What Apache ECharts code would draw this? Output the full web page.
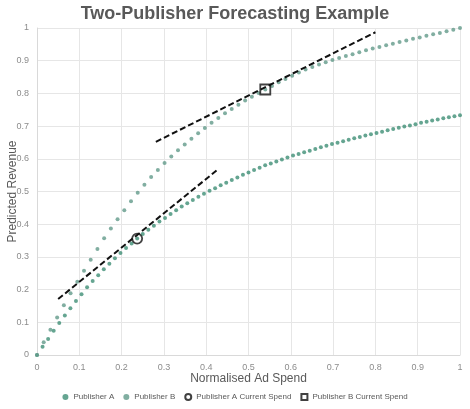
<!DOCTYPE html>
<html>
<head>
<meta charset="utf-8">
<script src="https://cdn.jsdelivr.net/npm/echarts@6/dist/echarts.min.js"></script>
<style>
  html, body { margin: 0; padding: 0; background: #fff; }
  #main { width: 470px; height: 409px; }
</style>
</head>
<body>
<div id="main"></div>
<script>
// spend grid: A sampled in 76 steps, B in 63 steps, both from 0 to 1
var stepsA = 76;
var stepsB = 63;

var revenueA = [0, 0.025, 0.049, 0.074, 0.098, 0.121, 0.143, 0.165, 0.186, 0.207,
    0.226, 0.244, 0.262, 0.279, 0.296, 0.312, 0.327, 0.341, 0.356, 0.370,
    0.383, 0.395, 0.408, 0.419, 0.431, 0.443, 0.454, 0.464, 0.474, 0.484,
    0.493, 0.502, 0.510, 0.519, 0.527, 0.535, 0.543, 0.551, 0.558, 0.566,
    0.573, 0.580, 0.586, 0.592, 0.598, 0.604, 0.610, 0.615, 0.620, 0.625,
    0.630, 0.635, 0.640, 0.645, 0.649, 0.654, 0.658, 0.663, 0.667, 0.671,
    0.675, 0.679, 0.683, 0.687, 0.691, 0.695, 0.699, 0.702, 0.706, 0.710,
    0.713, 0.717, 0.720, 0.724, 0.727, 0.730, 0.733];

var revenueB = [0, 0.039, 0.077, 0.115, 0.152, 0.189, 0.224, 0.258, 0.291, 0.324,
    0.357, 0.387, 0.415, 0.443, 0.470, 0.496, 0.521, 0.544, 0.566, 0.587,
    0.607, 0.626, 0.644, 0.661, 0.678, 0.694, 0.710, 0.725, 0.739, 0.752,
    0.765, 0.778, 0.790, 0.801, 0.812, 0.823, 0.834, 0.844, 0.854, 0.864,
    0.873, 0.881, 0.888, 0.895, 0.902, 0.908, 0.914, 0.920, 0.926, 0.932,
    0.937, 0.942, 0.947, 0.952, 0.957, 0.962, 0.967, 0.971, 0.976, 0.981,
    0.985, 0.990, 0.995, 1.0];

var currentA = [0.2368, 0.356];
var currentB = [0.5397, 0.812];

var tangentA = [[0.050, 0.171], [0.429, 0.569]];
var tangentB = [[0.281, 0.652], [0.800, 0.987]];

var toPoints = function (values, steps) {
    var res = [];
    for (var i = 0; i < values.length; i++) {
        res.push([i / steps, values[i]]);
    }
    return res;
};

var axisLabel = { color: '#8c8c8c', fontSize: 9, fontFamily: 'Liberation Sans' };
var nameStyle = { color: '#595959', fontSize: 12, fontFamily: 'Liberation Sans' };

option = {
    backgroundColor: '#fff',
    animation: false,
    title: {
        text: 'Two-Publisher Forecasting Example',
        left: 'center',
        top: 0,
        textStyle: {
            color: '#595959',
            fontWeight: 'bold',
            fontSize: 18,
            fontFamily: 'Liberation Sans'
        }
    },
    grid: { left: 37, right: 10, top: 28, bottom: 54, containLabel: false, outerBoundsMode: 'none' },
    legend: {
        bottom: 3,
        left: 'center',
        itemWidth: 6,
        itemHeight: 6,
        itemGap: 9,
        textStyle: { color: '#595959', fontSize: 8, fontFamily: 'Liberation Sans' },
        data: [
            { name: 'Publisher A', icon: 'circle', itemStyle: { color: '#3f8f76' } },
            { name: 'Publisher B', icon: 'circle', itemStyle: { color: '#629a8a' } },
            { name: 'Publisher A Current Spend', icon: 'circle' },
            { name: 'Publisher B Current Spend', icon: 'rect' }
        ]
    },
    xAxis: {
        type: 'value',
        min: 0,
        max: 1,
        interval: 0.1,
        name: 'Normalised Ad Spend',
        nameLocation: 'middle',
        nameGap: 18,
        nameMoveOverlap: false,
        nameTextStyle: nameStyle,
        axisLine: { lineStyle: { color: '#d9d9d9' } },
        axisTick: { show: false },
        axisLabel: axisLabel,
        splitLine: { lineStyle: { color: '#e6e6e6' } }
    },
    yAxis: {
        type: 'value',
        min: 0,
        max: 1,
        interval: 0.1,
        name: 'Predicted Revenue',
        nameLocation: 'middle',
        nameGap: 18,
        nameMoveOverlap: false,
        nameTextStyle: nameStyle,
        axisLine: { show: true, lineStyle: { color: '#d9d9d9' } },
        axisTick: { show: false },
        axisLabel: axisLabel,
        splitLine: { lineStyle: { color: '#e6e6e6' } }
    },
    series: [
        {
            name: 'Publisher A',
            type: 'scatter',
            symbolSize: 4,
            itemStyle: { color: '#3f8f76' },
            data: toPoints(revenueA, stepsA),
            z: 3
        },
        {
            name: 'Publisher B',
            type: 'scatter',
            symbolSize: 4,
            itemStyle: { color: '#629a8a' },
            data: toPoints(revenueB, stepsB),
            z: 3
        },
        {
            name: 'tangent A',
            type: 'line',
            showSymbol: false,
            symbol: 'none',
            lineStyle: { color: '#111', width: 2, type: [6, 3] },
            data: tangentA,
            z: 4
        },
        {
            name: 'tangent B',
            type: 'line',
            showSymbol: false,
            symbol: 'none',
            lineStyle: { color: '#111', width: 2, type: [6, 3] },
            data: tangentB,
            z: 4
        },
        {
            name: 'Publisher A Current Spend',
            type: 'scatter',
            symbol: 'circle',
            symbolSize: 10,
            itemStyle: { color: 'rgba(255,255,255,0)', borderColor: '#111', borderWidth: 1.8 },
            data: [currentA],
            z: 5
        },
        {
            name: 'Publisher B Current Spend',
            type: 'scatter',
            symbol: 'rect',
            symbolSize: 10,
            itemStyle: { color: 'rgba(255,255,255,0)', borderColor: '#111', borderWidth: 1.8 },
            data: [currentB],
            z: 5
        }
    ]
};

var myChart = echarts.init(document.getElementById('main'));
myChart.setOption(option);
</script>
</body>
</html>
